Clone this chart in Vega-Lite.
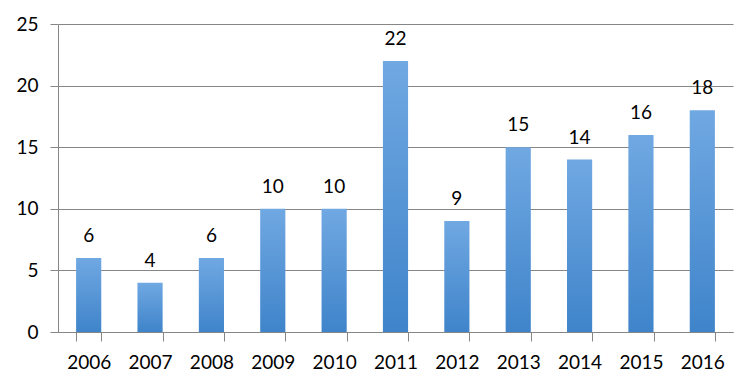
{
  "$schema": "https://vega.github.io/schema/vega-lite/v6.json",
  "width": 675,
  "height": 308,
  "autosize": {"type": "none"},
  "padding": {"left": 58, "top": 24, "right": 23, "bottom": 57},
  "background": "white",
  "config": {"view": {"stroke": null}, "font": "Lato"},
  "data": {"values": [
    {"year": "2006", "value": 6},
    {"year": "2007", "value": 4},
    {"year": "2008", "value": 6},
    {"year": "2009", "value": 10},
    {"year": "2010", "value": 10},
    {"year": "2011", "value": 22},
    {"year": "2012", "value": 9},
    {"year": "2013", "value": 15},
    {"year": "2014", "value": 14},
    {"year": "2015", "value": 16},
    {"year": "2016", "value": 18}
  ]},
  "encoding": {
    "x": {"field": "year", "type": "ordinal", "title": null,
      "scale": {"paddingInner": 0.59, "paddingOuter": 0.295},
      "axis": {"labelAngle": 0, "labelFont": "Lato", "labelFontSize": 19, "labelColor": "black",
        "domainColor": "#868686", "tickColor": "#868686", "tickSize": 9, "tickBand": "extent",
        "labelPadding": 12}},
    "y": {"field": "value", "type": "quantitative", "title": null,
      "scale": {"domain": [0, 25], "nice": false},
      "axis": {"values": [0, 5, 10, 15, 20, 25], "grid": true, "gridColor": "#868686", "domain": true,
        "domainColor": "#868686", "tickColor": "#868686", "tickSize": 8, "labelPadding": 12,
        "labelFont": "Lato", "labelFontSize": 19, "labelColor": "black"}}
  },
  "layer": [
    {"mark": {"type": "bar", "color": {"gradient": "linear", "x1": 0, "y1": 0, "x2": 0, "y2": 1,
      "stops": [{"offset": 0, "color": "#70a8e2"}, {"offset": 1, "color": "#3f84ca"}]}}},
    {"mark": {"type": "text", "baseline": "bottom", "dy": -12, "fontSize": 19, "font": "Lato", "color": "black"},
      "encoding": {"text": {"field": "value", "type": "quantitative"}}}
  ]
}
